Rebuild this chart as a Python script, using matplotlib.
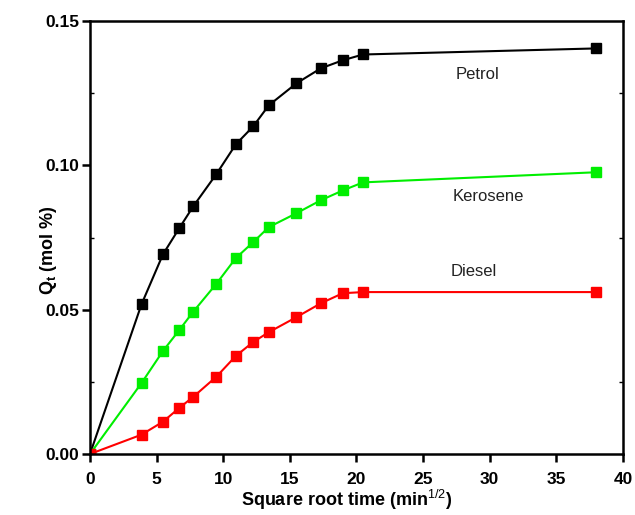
import matplotlib
matplotlib.use("Agg")
import matplotlib.pyplot as plt
from matplotlib.ticker import MultipleLocator

plt.rcParams['font.family'] = ['Liberation Sans', 'DejaVu Sans']
plt.rcParams['mathtext.fontset'] = 'custom'
plt.rcParams['mathtext.rm'] = 'Liberation Sans'
plt.rcParams['mathtext.bf'] = 'Liberation Sans:bold'

sqrt_time = [0, 3.87, 5.48, 6.71, 7.75, 9.49, 10.95, 12.25, 13.42, 15.49, 17.32, 18.97, 20.49, 37.95]
petrol = [0, 0.0519, 0.0692, 0.0783, 0.0858, 0.0970, 0.1073, 0.1135, 0.1208, 0.1284, 0.1336, 0.1364, 0.1384, 0.1405]
kerosene = [0, 0.0246, 0.0357, 0.0430, 0.0493, 0.0590, 0.0679, 0.0734, 0.0786, 0.0834, 0.0879, 0.0913, 0.0941, 0.0976]
diesel = [0, 0.0067, 0.0112, 0.0160, 0.0198, 0.0268, 0.0340, 0.0388, 0.0422, 0.0474, 0.0522, 0.0557, 0.0561, 0.0561]

series = [("Petrol", petrol, "#000000"), ("Kerosene", kerosene, "#00ee00"), ("Diesel", diesel, "#ff0000")]
label_pos = {"Petrol": (29.1, 0.1315), "Kerosene": (29.9, 0.0893), "Diesel": (28.8, 0.0632)}

fig = plt.figure(figsize=(6.35, 5.15), dpi=100)
ax = fig.add_axes([0.1417, 0.1184, 0.8394, 0.8408])

for name, vals, col in series:
    ax.plot(sqrt_time, vals, color=col, lw=1.5, marker='s', markersize=6.5,
            markerfacecolor=col, markeredgecolor=col)
    x, y = label_pos[name]
    ax.text(x, y, name, fontsize=12, ha='center', va='center', color='#222222')

ax.set_xlim(0, 40)
ax.set_ylim(0, 0.15)
ax.xaxis.set_major_locator(MultipleLocator(5))
ax.yaxis.set_minor_locator(MultipleLocator(0.025))
ax.set_yticks([0, 0.05, 0.10, 0.15])
ax.set_yticklabels(["0.00", "0.05", "0.10", "0.15"])

for sp in ax.spines.values():
    sp.set_linewidth(1.8)

ax.tick_params(axis='both', which='major', direction='out', length=6, width=1.8,
               labelsize=12.5)
ax.tick_params(axis='x', which='major', pad=7)
ax.tick_params(axis='y', which='major', pad=1.5)
ax.tick_params(axis='y', which='minor', direction='in', length=3, width=1, right=True, left=True)
for lab in ax.get_xticklabels() + ax.get_yticklabels():
    lab.set_fontweight('bold')

ax.set_xlabel(r"Square root time (min$^{1/2}$)", fontsize=13, fontweight='bold', va='center')
ax.xaxis.set_label_coords(0.482, -0.107)
ax.set_ylabel(r"Q$_\mathbf{t}$ (mol %)", fontsize=13, fontweight='bold', va='center')
ax.yaxis.set_label_coords(-0.077, 0.47)

fig.savefig("out.png", dpi=100)
